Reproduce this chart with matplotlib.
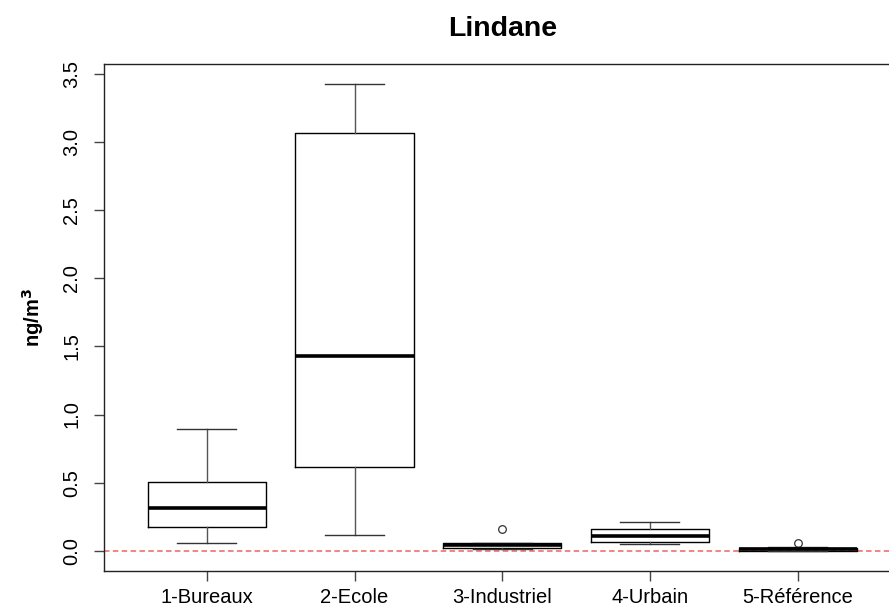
import matplotlib
matplotlib.use("Agg")
import matplotlib.pyplot as plt

plt.rcParams['font.family'] = ['Liberation Sans', 'DejaVu Sans']

categories = ["1-Bureaux", "2-Ecole", "3-Industriel", "4-Urbain", "5-Référence"]
whislo = [0.059, 0.116, 0.013, 0.048, 0.000]
q1     = [0.177, 0.615, 0.023, 0.067, 0.002]
med    = [0.312, 1.429, 0.046, 0.109, 0.013]
q3     = [0.507, 3.065, 0.059, 0.158, 0.023]
whishi = [0.894, 3.424, 0.060, 0.209, 0.025]
fliers = [[], [], [0.158], [], [0.055]]
yticks = [0.0, 0.5, 1.0, 1.5, 2.0, 2.5, 3.0, 3.5]
ref_level = 0.0

W, H = 889, 610
fig = plt.figure(figsize=(W / 100, H / 100), dpi=100)
left, right, top, bottom = 103.5, 901.0, 64.0, 571.0
ax = fig.add_axes([left / W, 1 - bottom / H, (right - left) / W, (bottom - top) / H])

stats = []
for i, c in enumerate(categories):
    stats.append(dict(label=c, whislo=whislo[i], q1=q1[i], med=med[i], q3=q3[i],
                      whishi=whishi[i], fliers=fliers[i]))

positions = list(range(1, len(categories) + 1))
ax.bxp(stats, positions=positions, widths=0.8, showfliers=True,
       boxprops=dict(color='black', linewidth=1.0),
       medianprops=dict(color='black', linewidth=2.6, solid_capstyle='butt'),
       whiskerprops=dict(color='#555555', linewidth=1.0),
       capprops=dict(color='#333333', linewidth=1.0),
       flierprops=dict(marker='o', markersize=5.5, markerfacecolor='none',
                       markeredgecolor='#333333', markeredgewidth=0.9),
       capwidths=0.4)

ax.axhline(ref_level, color='#f06262', linewidth=1.1, linestyle=(0, (3.6, 2.2)), zorder=0)

ax.set_xlim(0.3, 5.7)
ax.set_ylim(-0.148, 3.572)
ax.set_xticks(positions)
ax.set_xticklabels(categories, fontsize=14.5)
ax.set_yticks(yticks)
ax.set_yticklabels([f"{v:.1f}" for v in yticks], fontsize=14.5, rotation=90, va='center')
ax.tick_params(axis='both', direction='out', length=7, width=1.0, color='#444444')
ax.tick_params(axis='x', pad=5)
ax.tick_params(axis='y', pad=9)
for s in ax.spines.values():
    s.set_linewidth(1.0)
    s.set_color('#222222')

ax.set_ylabel("ng/m$^\\mathbf{3}$", fontsize=14.5, fontweight='bold', labelpad=12)
fig.text((left + right) / 2 / W, 1 - 29 / H, "Lindane", fontsize=20.5, fontweight='bold',
         ha='center', va='center')

fig.savefig("out.png", dpi=100)
